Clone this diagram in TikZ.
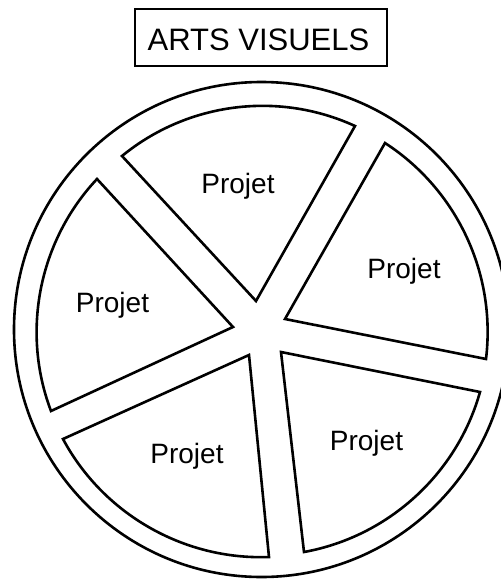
\documentclass[tikz,border=0pt]{standalone}
\usepackage{fontspec}
\setmainfont{Liberation Sans}
\begin{document}
\begin{tikzpicture}[x=1pt,y=-1pt,
  ln/.style={line width=2.6pt,line join=miter},
  wedge/.style={ln},
  arcto/.style={bend left=32,looseness=0.92},
  lbl/.style={anchor=base,inner sep=0pt,font=\fontsize{28}{32}\selectfont},
  ttl/.style={anchor=base,inner sep=0pt,font=\fontsize{31}{36}\selectfont}]
\useasboundingbox (0,0) rectangle (501,579);
\clip (0,0) rectangle (501,579);
\fill[white] (0,0) rectangle (501,579);
% title
\draw[ln] (135,9) rectangle (387,66);
\node[ttl] (title) at (258.5,50) {ARTS VISUELS};
% outer ring
\draw[ln] (261.5,329.5) circle[radius=247.5];
% wedges
\draw[wedge] (256,301) -- (122,156) to[arcto] (355,126) -- cycle;
\draw[wedge] (285,319) -- (385,143) to[arcto] (486,359) -- cycle;
\draw[wedge] (281,352) -- (480,392) to[arcto] (304,552) -- cycle;
\draw[wedge] (249,355) -- (269,557) to[arcto] (63,439) -- cycle;
\draw[wedge] (233,327) -- (51,411) to[arcto] (97,179) -- cycle;
% labels
\node[lbl] (p1) at (238,193) {Projet};
\node[lbl] (p2) at (404,278) {Projet};
\node[lbl] (p3) at (366.5,450) {Projet};
\node[lbl] (p4) at (187,463) {Projet};
\node[lbl] (p5) at (112.5,312) {Projet};
\end{tikzpicture}
\end{document}
